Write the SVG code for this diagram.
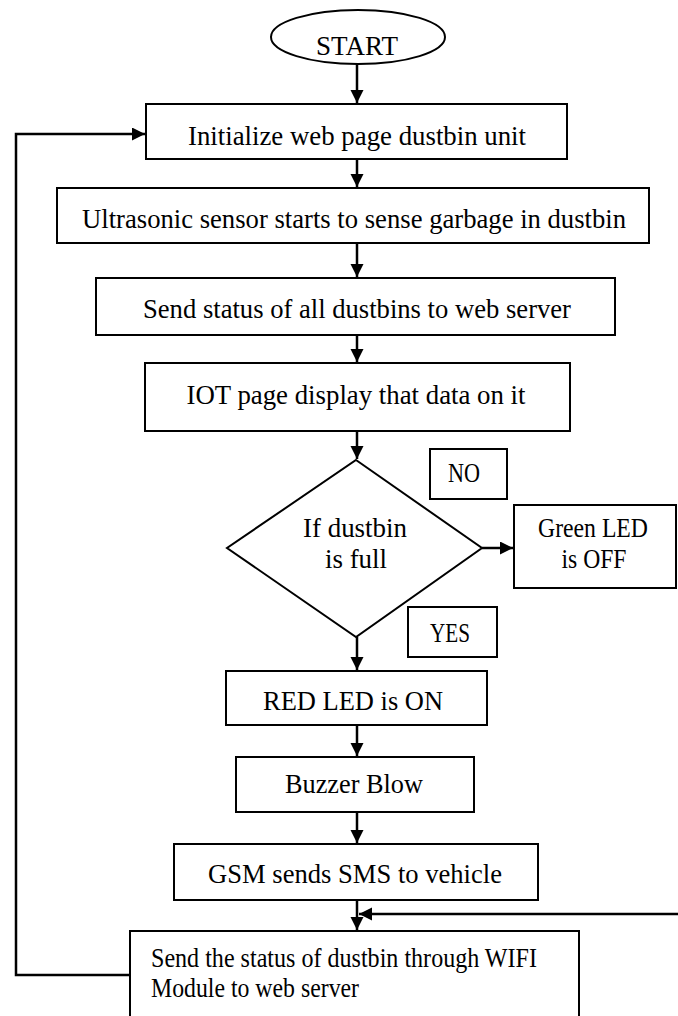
<svg xmlns="http://www.w3.org/2000/svg" width="678" height="1016" viewBox="0 0 678 1016">
  <style>
    .box { fill: #fff; stroke: #000; stroke-width: 2; }
    .lbl { font-family: "Liberation Serif", "Times New Roman", serif; font-size: 27px; fill: #000; }
    .mid { text-anchor: middle; }
    .wire { fill: none; stroke: #000; stroke-width: 2.5; }
  </style>
  <defs>
    <marker id="arrow" markerWidth="16" markerHeight="14" refX="13" refY="6.5" orient="auto" markerUnits="userSpaceOnUse">
      <path d="M0,0 L13,6.5 L0,13 Z" fill="#000"/>
    </marker>
  </defs>
  <rect width="678" height="1016" fill="#fff"/>

  <g id="connectors">
    <path class="wire" d="M357,64 V103" marker-end="url(#arrow)"/>
    <path class="wire" d="M357,159 V187" marker-end="url(#arrow)"/>
    <path class="wire" d="M357,243 V277" marker-end="url(#arrow)"/>
    <path class="wire" d="M357,335 V362" marker-end="url(#arrow)"/>
    <path class="wire" d="M357,431 V459" marker-end="url(#arrow)"/>
    <path class="wire" d="M482,548 H513" marker-end="url(#arrow)"/>
    <path class="wire" d="M357,637 V670" marker-end="url(#arrow)"/>
    <path class="wire" d="M357,725 V756" marker-end="url(#arrow)"/>
    <path class="wire" d="M357,812 V843" marker-end="url(#arrow)"/>
    <path class="wire" d="M357,900 V930" marker-end="url(#arrow)"/>
    <path class="wire" d="M678,914 H359" marker-end="url(#arrow)"/>
    <path class="wire" stroke-width="2" d="M130,975 H16 V134 H145" marker-end="url(#arrow)"/>
  </g>

  <g id="start">
    <ellipse cx="358" cy="37" rx="87" ry="27" class="box"/>
    <text class="lbl mid" x="357" y="55" textLength="82" lengthAdjust="spacingAndGlyphs">START</text>
  </g>

  <g id="init">
    <rect class="box" x="146" y="104" width="421" height="55"/>
    <text class="lbl mid" x="357" y="145" textLength="338" lengthAdjust="spacingAndGlyphs">Initialize web page dustbin unit</text>
  </g>

  <g id="sense">
    <rect class="box" x="57" y="188" width="592" height="55"/>
    <text class="lbl mid" x="354" y="228" textLength="544" lengthAdjust="spacingAndGlyphs">Ultrasonic sensor starts to sense garbage in dustbin</text>
  </g>

  <g id="send-status">
    <rect class="box" x="96" y="278" width="519" height="57"/>
    <text class="lbl mid" x="357" y="318" textLength="428" lengthAdjust="spacingAndGlyphs">Send status of all dustbins to web server</text>
  </g>

  <g id="iot-page">
    <rect class="box" x="145" y="363" width="425" height="68"/>
    <text class="lbl mid" x="356" y="404" textLength="339" lengthAdjust="spacingAndGlyphs">IOT page display that data on it</text>
  </g>

  <g id="decision">
    <polygon class="box" points="356,460 482,548 356,637 227,548"/>
    <text class="lbl mid" x="355" y="537" textLength="104" lengthAdjust="spacingAndGlyphs">If dustbin</text>
    <text class="lbl mid" x="356" y="568" textLength="62" lengthAdjust="spacingAndGlyphs">is full</text>
  </g>

  <g id="no-label">
    <rect class="box" x="430" y="449" width="77" height="50"/>
    <text class="lbl mid" x="464" y="482" textLength="32" lengthAdjust="spacingAndGlyphs">NO</text>
  </g>

  <g id="green-led">
    <rect class="box" x="514" y="505" width="162" height="83"/>
    <text class="lbl mid" x="593" y="537" textLength="110" lengthAdjust="spacingAndGlyphs">Green LED</text>
    <text class="lbl mid" x="594" y="568" textLength="65" lengthAdjust="spacingAndGlyphs">is OFF</text>
  </g>

  <g id="yes-label">
    <rect class="box" x="408" y="607" width="89" height="50"/>
    <text class="lbl mid" x="450" y="642" textLength="40" lengthAdjust="spacingAndGlyphs">YES</text>
  </g>

  <g id="red-led">
    <rect class="box" x="226" y="671" width="261" height="54"/>
    <text class="lbl mid" x="353" y="710" textLength="180" lengthAdjust="spacingAndGlyphs">RED LED is ON</text>
  </g>

  <g id="buzzer">
    <rect class="box" x="236" y="757" width="238" height="55"/>
    <text class="lbl mid" x="354" y="793" textLength="138" lengthAdjust="spacingAndGlyphs">Buzzer Blow</text>
  </g>

  <g id="gsm">
    <rect class="box" x="174" y="844" width="364" height="56"/>
    <text class="lbl mid" x="355" y="883" textLength="294" lengthAdjust="spacingAndGlyphs">GSM sends SMS to vehicle</text>
  </g>

  <g id="wifi">
    <rect class="box" x="130" y="931" width="449" height="90"/>
    <text class="lbl" x="151" y="967" textLength="386" lengthAdjust="spacingAndGlyphs">Send the status of dustbin through WIFI</text>
    <text class="lbl" x="151" y="997" textLength="208" lengthAdjust="spacingAndGlyphs">Module to web server</text>
  </g>
</svg>
